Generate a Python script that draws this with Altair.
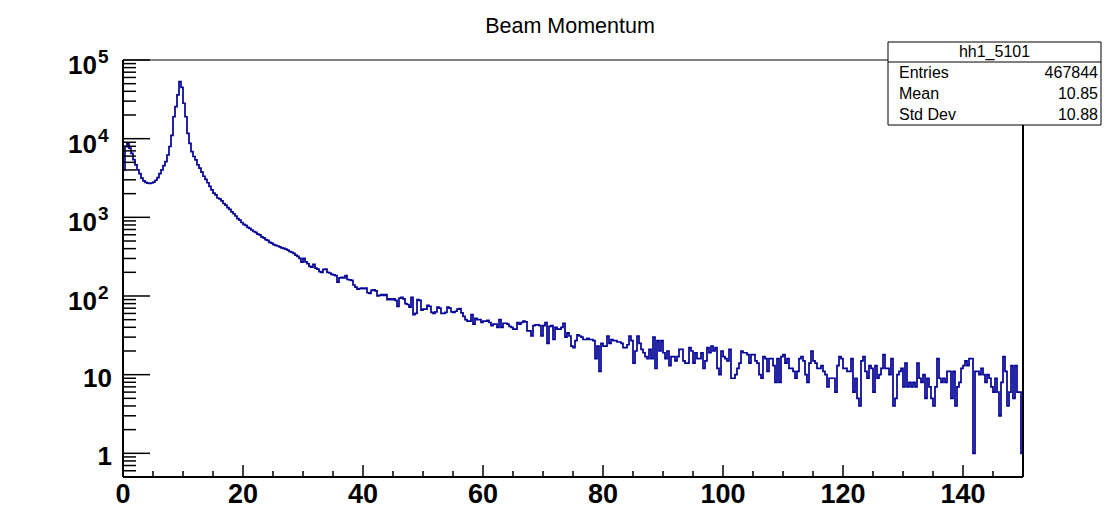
import altair as alt
import pandas as pd

# ------------------------------------------------------------------ data
x_min, x_max, n_bins = 0.0, 150.0, 450

counts_0_16 = [
    4000, 7900, 8600, 7600, 6500, 5400, 4650, 4000, 3600, 3150,
    2900, 2780, 2720, 2700, 2730, 2800, 2960, 3200, 3600, 4000,
    4550, 5100, 6200, 7950, 11000, 19000, 25500, 36000, 53000, 45000,
    28200, 19000, 11700, 8700, 6860, 5930, 5380, 4650, 4230, 3750,
    3330, 3030, 2750, 2470, 2240, 2030, 1930, 1760,
]
counts_16_25 = [
    1720, 1620, 1500, 1430, 1330, 1260, 1170, 1110, 1040, 960,
    920, 860, 815, 790, 745, 725, 690, 660, 645, 612,
    600, 565, 548, 520, 510, 480, 470, 450,
]
counts_25_56 = [
    440, 432, 420, 410, 402, 395, 384, 368, 360, 348,
    330, 318, 300, 270, 300, 272, 258, 238, 232, 252,
    226, 220, 204, 200, 218, 220, 200, 196, 188, 186,
    182, 150, 170, 172, 170, 182, 162, 160, 158, 138,
    130, 122, 124, 126, 124, 126, 110, 108, 118, 120,
    116, 100, 102, 104, 102, 104, 90, 92, 90, 92,
    88, 74, 94, 96, 92, 80, 78, 72, 96, 58,
    60, 90, 88, 66, 68, 68, 76, 74, 62, 60,
    63, 72, 70, 60, 60, 62, 72, 70, 63, 62,
    64, 68, 69,
]
counts_56_89 = [
    61, 55, 50, 48, 48, 58, 44, 52, 50, 50,
    46, 48, 48, 49, 46, 42, 44, 44, 40, 50,
    40, 45, 45, 44, 41, 40, 38, 38, 46, 44,
    46, 48, 47, 36, 36, 31, 42, 43, 43, 42,
    31, 42, 46, 25, 41, 42, 28, 40, 38, 38,
    40, 45, 30, 34, 31, 23, 22, 27, 32, 31,
    30, 28, 28, 29, 28, 28, 27, 16, 23, 11,
    25, 23, 23, 31, 25, 28, 27, 27, 26, 26,
    25, 22, 22, 24, 31, 27, 14, 20, 31, 25,
    21, 19, 17, 16, 21, 16, 30,
]
counts_89_120 = [
    12, 27, 20, 27, 19, 16, 20, 13, 17, 17,
    15, 17, 21, 21, 15, 14, 14, 22, 20, 14,
    19, 16, 16, 19, 12, 15, 22, 19, 23, 20,
    22, 12, 10, 20, 17, 16, 15, 21, 9, 9,
    10, 12, 14, 20, 19, 19, 18, 14, 18, 18,
    15, 14, 10, 9, 17, 16, 11, 16, 16, 13,
    8, 16, 8, 17, 18, 14, 16, 12, 12, 11,
    9, 11, 16, 17, 15, 10, 8, 14, 20, 15,
    14, 12, 12, 13, 11, 10, 7, 9, 9, 9,
    6, 13, 17, 16,
]
counts_120_150 = [
    12, 12, 11, 11, 16, 6, 9, 5, 4, 15,
    17, 11, 9, 13, 12, 6, 13, 9, 10, 12,
    18, 12, 12, 10, 16, 4, 5, 10, 11, 12,
    7, 14, 7, 8, 7, 8, 7, 14, 9, 8,
    10, 5, 9, 7, 5, 4, 7, 16, 9, 8,
    9, 8, 11, 11, 5, 11, 4, 7, 8, 12,
    13, 15, 13, 16, 16, 1, 11, 11, 10, 12,
    10, 8, 10, 9, 7, 6, 9, 6, 3, 8,
    17, 11, 4, 6, 13, 5, 13, 6, 6, 1,
]
counts = (counts_0_16 + counts_16_25 + counts_25_56 + counts_56_89
          + counts_89_120 + counts_120_150)

x_label_values = [0, 20, 40, 60, 80, 100, 120, 140]
x_minor_values = [5, 10, 15, 25, 30, 35, 45, 50, 55, 65, 70, 75, 85, 90, 95,
                  105, 110, 115, 125, 130, 135, 145, 150]
y_plain_values = [1, 10]
y_plain_labels = ["1", "10"]
y_pow_values = [100, 1000, 10000, 100000]
y_pow_exponents = ["2", "3", "4", "5"]
y_major_values = y_plain_values + y_pow_values
y_minor_values = [m * 10.0 ** k for k in range(-1, 5) for m in range(2, 10)
                  if 0.5 <= m * 10.0 ** k < 1e5]
title_text = "Beam Momentum"
stats_name = "hh1_5101"
stats_keys = ["Entries", "Mean", "Std Dev"]
stats_vals = ["467844", "10.85", "10.88"]

# ------------------------------------------------------------------ chart
W, H = 900, 417
FONT = "Liberation Sans"
LINE = "#000096"

edges = [x_min + i * (x_max - x_min) / n_bins for i in range(n_bins + 1)]
hist = pd.DataFrame({"x": edges, "n": counts + [counts[-1]]})

xs = alt.Scale(domain=[x_min, x_max], nice=False, zero=False)
ys = alt.Scale(type="log", domain=[0.5, 100000], nice=False)
one = pd.DataFrame({"d": [0]})

layers = []

# histogram outline
layers.append(
    alt.Chart(hist).mark_line(interpolate="step-after", color=LINE, strokeWidth=1.7)
    .encode(x=alt.X("x:Q", scale=xs, axis=None),
            y=alt.Y("n:Q", scale=ys, axis=None))
)

# frame
def frame_rule(w, **enc):
    return alt.Chart(one).mark_rule(color="black", strokeWidth=w).encode(**enc)

layers += [
    frame_rule(1, x=alt.value(0), x2=alt.value(W), y=alt.value(0)),
    frame_rule(2, x=alt.value(W), y=alt.value(0), y2=alt.value(H)),
    frame_rule(2, x=alt.value(0), y=alt.value(0), y2=alt.value(H)),
    frame_rule(2, x=alt.value(0), x2=alt.value(W), y=alt.value(H)),
]

# y ticks (inside the frame)
layers.append(
    alt.Chart(pd.DataFrame({"v": y_major_values})).mark_rule(color="black", strokeWidth=1.5)
    .encode(y=alt.Y("v:Q", scale=ys, axis=None), x=alt.value(0), x2=alt.value(27))
)
layers.append(
    alt.Chart(pd.DataFrame({"v": y_minor_values})).mark_rule(color="black", strokeWidth=1.5)
    .encode(y=alt.Y("v:Q", scale=ys, axis=None), x=alt.value(0), x2=alt.value(13))
)
# x ticks (inside the frame)
layers.append(
    alt.Chart(pd.DataFrame({"v": x_label_values})).mark_rule(color="black", strokeWidth=1.5)
    .encode(x=alt.X("v:Q", scale=xs, axis=None), y=alt.value(H), y2=alt.value(H - 12))
)
layers.append(
    alt.Chart(pd.DataFrame({"v": x_minor_values})).mark_rule(color="black", strokeWidth=1.5)
    .encode(x=alt.X("v:Q", scale=xs, axis=None), y=alt.value(H), y2=alt.value(H - 6))
)

# x labels
layers.append(
    alt.Chart(pd.DataFrame({"v": x_label_values, "t": [str(v) for v in x_label_values]}))
    .mark_text(font=FONT, fontSize=27, fontWeight="bold", align="center",
               baseline="alphabetic", color="black")
    .encode(x=alt.X("v:Q", scale=xs, axis=None), y=alt.value(H + 26), text="t:N")
)

# y labels: plain
layers.append(
    alt.Chart(pd.DataFrame({"v": y_plain_values, "t": y_plain_labels}))
    .mark_text(font=FONT, fontSize=26, fontWeight="bold", align="right",
               baseline="alphabetic", dy=12, color="black")
    .encode(y=alt.Y("v:Q", scale=ys, axis=None), x=alt.value(-11), text="t:N")
)
# y labels: powers of ten
pow_df = pd.DataFrame({"v": y_pow_values, "b": ["10"] * len(y_pow_values), "e": y_pow_exponents})
layers.append(
    alt.Chart(pow_df)
    .mark_text(font=FONT, fontSize=26, fontWeight="bold", align="right",
               baseline="alphabetic", dy=14, color="black")
    .encode(y=alt.Y("v:Q", scale=ys, axis=None), x=alt.value(-26), text="b:N")
)
layers.append(
    alt.Chart(pow_df)
    .mark_text(font=FONT, fontSize=19, fontWeight="bold", align="left",
               baseline="alphabetic", dy=3, color="black")
    .encode(y=alt.Y("v:Q", scale=ys, axis=None), x=alt.value(-25), text="e:N")
)

# title
layers.append(
    alt.Chart(pd.DataFrame({"t": [title_text]}))
    .mark_text(font=FONT, fontSize=21.5, align="center", baseline="alphabetic", color="black")
    .encode(x=alt.value(W / 2 - 3), y=alt.value(-27), text="t:N")
)

# statistics box
BX0, BX1, BY0, BY1 = 765, 978, -18, 65
layers.append(
    alt.Chart(one).mark_rect(fill="white", stroke="black", strokeWidth=1)
    .encode(x=alt.value(BX0), x2=alt.value(BX1), y=alt.value(BY0), y2=alt.value(BY1))
)
layers.append(
    alt.Chart(one).mark_rule(color="black", strokeWidth=1)
    .encode(x=alt.value(BX0), x2=alt.value(BX1), y=alt.value(2))
)
layers.append(
    alt.Chart(pd.DataFrame({"t": [stats_name]}))
    .mark_text(font=FONT, fontSize=16, align="center", baseline="alphabetic", color="black")
    .encode(x=alt.value((BX0 + BX1) / 2), y=alt.value(-3), text="t:N")
)
for i, (k, v) in enumerate(zip(stats_keys, stats_vals)):
    yy = 17.5 + i * 21.3
    layers.append(
        alt.Chart(pd.DataFrame({"t": [k]}))
        .mark_text(font=FONT, fontSize=16, align="left", baseline="alphabetic", color="black")
        .encode(x=alt.value(BX0 + 11), y=alt.value(yy), text="t:N")
    )
    layers.append(
        alt.Chart(pd.DataFrame({"t": [v]}))
        .mark_text(font=FONT, fontSize=16, align="right", baseline="alphabetic", color="black")
        .encode(x=alt.value(BX1 - 3), y=alt.value(yy), text="t:N")
    )

chart = (
    alt.layer(*layers)
    .properties(width=W, height=H,
                autosize=alt.AutoSizeParams(type="none"),
                padding={"left": 115, "top": 52, "right": 84, "bottom": 40},
                background="white")
    .configure_view(stroke=None)
)

chart.save("out.html", embed_options={"renderer": "svg", "actions": False})
